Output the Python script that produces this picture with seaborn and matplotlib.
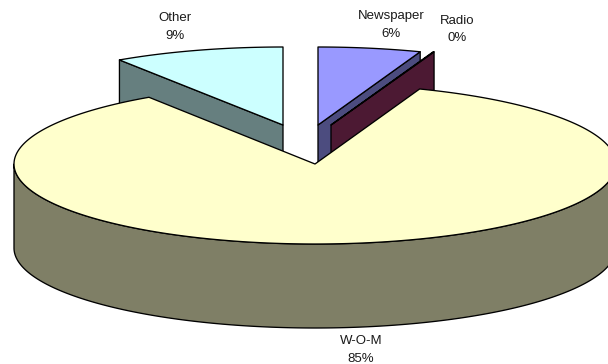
import numpy as np
import matplotlib
matplotlib.use("Agg")
import matplotlib.pyplot as plt
import seaborn as sns

# Share of customers by referral source, in percent
sources = ["Newspaper", "Radio", "W-O-M", "Other"]
shares = [5.6, 0.05, 85.05, 9.3]

top_colors = ["#9999FF", "#993366", "#FFFFCC", "#CCFFFF"]
side_colors = ["#4C4C7F", "#4C1933", "#7F7F66", "#667F7F"]

# Disc geometry, in figure pixels
CX, CY = 315, 164
RX, RY = 301, 80
DEPTH = 84
offsets = {"Newspaper": (3, -39), "Radio": (16, -39), "W-O-M": (0, 0), "Other": (-32, -39)}
# Slices pulled towards the back look a little smaller
scales = {"Newspaper": (0.985, 0.975), "Radio": (0.985, 0.975), "W-O-M": (1, 1), "Other": (0.985, 0.975)}
label_pos = {"Newspaper": (391, 25), "Radio": (457, 29.5), "W-O-M": (361, 350), "Other": (175, 27)}

sns.set_theme(style="white")
plt.rcParams["font.family"] = ["Liberation Sans", "DejaVu Sans"]
EDGE = dict(edgecolor="black", linewidth=0.95, joinstyle="round")

fig = plt.figure(figsize=(6.08, 3.64), dpi=100)
ax = fig.add_axes([0, 0, 1, 1])
ax.set_xlim(0, 608)
ax.set_ylim(364, 0)
ax.axis("off")


def rim(cx, cy, a0, a1, sx, sy):
    """Points along the elliptical rim; angles run clockwise from twelve o'clock."""
    t = np.radians(np.linspace(a0, a1, max(int(abs(a1 - a0) * 2), 2)))
    return cx + RX * sx * np.sin(t), cy - RY * sy * np.cos(t)


def draw_wedge(cx, cy, a0, a1, top, side, sx, sy):
    # radial wall seen from the front, on whichever edge faces the viewer
    if a1 <= 180 or a0 >= 180:
        ex, ey = rim(cx, cy, a1 if a1 <= 180 else a0, a1 if a1 <= 180 else a0, sx, sy)
        ax.fill([cx, ex[0], ex[0], cx], [cy, ey[0], ey[0] + DEPTH, cy + DEPTH], facecolor=side, **EDGE)
    # outer wall for any part of the rim on the near half
    lo, hi = max(a0, 90), min(a1, 270)
    if hi > lo:
        x, y = rim(cx, cy, lo, hi, sx, sy)
        ax.fill(np.r_[x, x[::-1]], np.r_[y, y[::-1] + DEPTH], facecolor=side, **EDGE)
    x, y = rim(cx, cy, a0, a1, sx, sy)
    ax.fill(np.r_[cx, x], np.r_[cy, y], facecolor=top, **EDGE)


edges = np.r_[0, np.cumsum(shares)] / sum(shares) * 360
spans = {s: (edges[i], edges[i + 1], top_colors[i], side_colors[i]) for i, s in enumerate(sources)}

# Back slices first, the large front slice over them
for name in ["Other", "Newspaper", "Radio", "W-O-M"]:
    a0, a1, top, side = spans[name]
    dx, dy = offsets[name]
    draw_wedge(CX + dx, CY + dy, a0, a1, top, side, *scales[name])

for name, value in zip(sources, shares):
    x, y = label_pos[name]
    ax.text(x, y, f"{name}\n{value:.0f}%", ha="center", va="center", fontsize=9.5,
            color="#1a1a1a", linespacing=1.62)

fig.savefig("out.png", dpi=100)
